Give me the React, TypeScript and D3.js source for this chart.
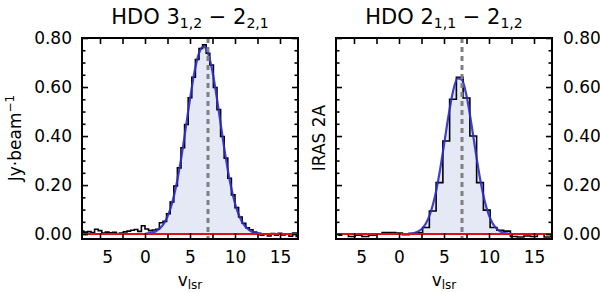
import { useEffect, useRef } from "react";
import * as d3 from "d3";

// HDO 3(1,2)-2(2,1): channel centres (km/s) and flux (Jy/beam)
const leftVelocity = [
  -7.0, -6.6, -6.2, -5.8, -5.4, -5.0, -4.6, -4.2, -3.8, -3.4, -3.0, -2.6, -2.2,
  -1.8, -1.4, -1.0, -0.6, -0.2, 0.2, 0.6, 1.0, 1.4, 1.8, 2.2, 2.6, 3.0, 3.4, 3.8,
  4.2, 4.6, 5.0, 5.4, 5.8, 6.2, 6.6, 7.0, 7.4, 7.8, 8.2, 8.6, 9.0, 9.4, 9.8, 10.2,
  10.6, 11.0, 11.4, 11.8, 12.2, 12.6, 13.0, 13.4, 13.8, 14.2, 14.6, 15.0, 15.4,
  15.8, 16.2, 16.6, 17.0,
];
const leftFlux = [
  0.012, 0.008, 0.01, 0.006, 0.02, 0.014, 0.004, 0.008, 0.005, 0.007, 0.002,
  0.004, 0.009, 0.012, 0.016, 0.019, 0.011, 0.034, 0.021, 0.014, 0.017, 0.02,
  0.046, 0.052, 0.083, 0.131, 0.196, 0.27, 0.352, 0.447, 0.556, 0.64, 0.712,
  0.757, 0.772, 0.738, 0.69, 0.598, 0.508, 0.398, 0.31, 0.228, 0.16, 0.108, 0.07,
  0.044, 0.026, 0.018, 0.008, 0.002, -0.004, 0.001, -0.008, 0.002, -0.005, 0.003,
  -0.003, 0.0, -0.009, 0.004, -0.01,
];
// gaussian fit
const leftFitVelocity = [
  0.0, 0.5, 1.0, 1.5, 2.0, 2.5, 3.0, 3.5, 4.0, 4.5, 5.0, 5.5, 6.0, 6.5, 7.0, 7.5,
  8.0, 8.5, 9.0, 9.5, 10.0, 10.5, 11.0, 11.5, 12.0, 12.5, 13.0,
];
const leftFit = [
  0.001, 0.004, 0.008, 0.019, 0.038, 0.072, 0.125, 0.203, 0.305, 0.426, 0.551,
  0.662, 0.738, 0.765, 0.738, 0.662, 0.551, 0.426, 0.305, 0.203, 0.125, 0.072,
  0.038, 0.019, 0.008, 0.004, 0.001,
];

// HDO 2(1,1)-2(1,2)
const rightVelocity = [
  -6.75, -6.0, -5.25, -4.5, -3.75, -3.0, -2.25, -1.5, -0.75, 0.0, 0.75, 1.5, 2.25,
  3.0, 3.75, 4.5, 5.25, 6.0, 6.75, 7.5, 8.25, 9.0, 9.75, 10.5, 11.25, 12.0, 12.75,
  13.5, 14.25, 15.0, 15.75, 16.5, 17.25,
];
const rightFlux = [
  -0.005, 0.0, -0.01, -0.005, -0.01, -0.005, 0.0, 0.006, 0.006, 0.004, -0.002,
  0.002, 0.005, 0.027, 0.094, 0.21, 0.38, 0.55, 0.64, 0.555, 0.4, 0.21, 0.098,
  0.027, 0.016, 0.012, -0.01, -0.012, -0.008, -0.01, 0.0, -0.012, -0.008,
];
const rightFitVelocity = [
  1.0, 1.5, 2.0, 2.5, 3.0, 3.5, 4.0, 4.5, 5.0, 5.5, 6.0, 6.5, 7.0, 7.5, 8.0, 8.5,
  9.0, 9.5, 10.0, 10.5, 11.0, 11.5, 12.0, 12.5,
];
const rightFit = [
  0.001, 0.003, 0.009, 0.02, 0.044, 0.087, 0.154, 0.249, 0.364, 0.483, 0.582,
  0.635, 0.629, 0.565, 0.46, 0.34, 0.228, 0.138, 0.076, 0.038, 0.017, 0.007,
  0.003, 0.001,
];

const xMajorTicks = [-5, 0, 5, 10, 15];
const xMinorTicks = [-2.5, 2.5, 7.5, 12.5];
const yMajorTicks = [0, 0.2, 0.4, 0.6, 0.8];
const yMinorTicks = [
  0.05, 0.1, 0.15, 0.25, 0.3, 0.35, 0.45, 0.5, 0.55, 0.65, 0.7, 0.75,
];
const systemicVelocity = 7.0;
const baselineLevel = 0;

const FONT = "DejaVu Sans";

type Panel = {
  key: string;
  left: number;
  velocity: number[];
  flux: number[];
  fitVelocity: number[];
  fit: number[];
  titleLevels: [string, string, string, string];
  labelSide: "left" | "right";
};

const panels: Panel[] = [
  {
    key: "a",
    left: 82,
    velocity: leftVelocity,
    flux: leftFlux,
    fitVelocity: leftFitVelocity,
    fit: leftFit,
    titleLevels: ["3", "1,2", "2", "2,1"],
    labelSide: "left",
  },
  {
    key: "b",
    left: 336,
    velocity: rightVelocity,
    flux: rightFlux,
    fitVelocity: rightFitVelocity,
    fit: rightFit,
    titleLevels: ["2", "1,1", "2", "1,2"],
    labelSide: "right",
  },
];

export default function App() {
  const svgRef = useRef<SVGSVGElement>(null);

  useEffect(() => {
    const svg = d3.select(svgRef.current);
    svg.selectAll("*").remove();

    const top = 38;
    const bottom = 239;
    const plotW = 216;

    const y = d3.scaleLinear().domain([-0.02, 0.8]).range([bottom, top]);

    panels.forEach((p) => {
      const x = d3
        .scaleLinear()
        .domain([-7, 17])
        .range([p.left, p.left + plotW]);
      const g = svg.append("g");

      g.append("clipPath")
        .attr("id", "clip-" + p.key)
        .append("rect")
        .attr("x", p.left)
        .attr("y", top)
        .attr("width", plotW)
        .attr("height", bottom - top);

      const inner = g.append("g").attr("clip-path", `url(#clip-${p.key})`);

      const fitPts = p.fitVelocity.map((v, i) => [v, p.fit[i]] as [number, number]);

      inner
        .append("path")
        .datum(fitPts)
        .attr("fill", "#e5e8f5")
        .attr(
          "d",
          d3
            .area<[number, number]>()
            .x((d) => x(d[0]))
            .y0(y(baselineLevel))
            .y1((d) => y(d[1]))
            .curve(d3.curveMonotoneX)
        );

      const specPts = p.velocity.map((v, i) => [v, p.flux[i]] as [number, number]);
      inner
        .append("path")
        .datum(specPts)
        .attr("fill", "none")
        .attr("stroke", "#000")
        .attr("stroke-width", 1.6)
        .attr(
          "d",
          d3
            .line<[number, number]>()
            .x((d) => x(d[0]))
            .y((d) => y(d[1]))
            .curve(d3.curveStep)
        );

      inner
        .append("path")
        .datum(fitPts)
        .attr("fill", "none")
        .attr("stroke", "#2c2cc8")
        .attr("stroke-width", 2.2)
        .attr("stroke-opacity", 0.9)
        .attr(
          "d",
          d3
            .line<[number, number]>()
            .x((d) => x(d[0]))
            .y((d) => y(d[1]))
            .curve(d3.curveMonotoneX)
        );

      inner
        .append("line")
        .attr("x1", x(-7))
        .attr("x2", x(17))
        .attr("y1", y(baselineLevel))
        .attr("y2", y(baselineLevel))
        .attr("stroke", "#e01010")
        .attr("stroke-width", 2);

      inner
        .append("line")
        .attr("x1", x(systemicVelocity))
        .attr("x2", x(systemicVelocity))
        .attr("y1", top)
        .attr("y2", bottom)
        .attr("stroke", "#808080")
        .attr("stroke-width", 3)
        .attr("stroke-dasharray", "5,4");

      // ticks pointing inward on all four sides
      const tickStyle = (sel: d3.Selection<SVGGElement, unknown, null, undefined>) => {
        sel.select(".domain").remove();
        sel.selectAll(".tick line").attr("stroke", "#000").attr("stroke-width", 1.6);
        sel.selectAll("text")
          .attr("font-family", FONT)
          .attr("font-size", 17)
          .attr("fill", "#000");
      };

      const bottomAxis = g
        .append("g")
        .attr("transform", `translate(0,${bottom})`)
        .call(
          d3
            .axisBottom(x)
            .tickValues(xMajorTicks)
            .tickSizeInner(-6)
            .tickSizeOuter(0)
            .tickPadding(12)
            .tickFormat((d) => String(d))
        );
      tickStyle(bottomAxis);
      bottomAxis.selectAll<SVGTextElement, number>("text").each(function (d) {
        if (d < 0) {
          const t = d3.select(this);
          t.text(null);
          t.append("tspan").attr("fill-opacity", 0).text("\u2212");
          t.append("tspan").text(String(Math.abs(d)));
        }
      });

      const bottomMinor = g
        .append("g")
        .attr("transform", `translate(0,${bottom})`)
        .call(d3.axisBottom(x).tickValues(xMinorTicks).tickSizeInner(-5).tickSizeOuter(0).tickFormat(() => ""));
      tickStyle(bottomMinor);

      const topAxis = g
        .append("g")
        .attr("transform", `translate(0,${top})`)
        .call(
          d3
            .axisTop(x)
            .tickValues([...xMajorTicks, ...xMinorTicks])
            .tickSizeInner(-6)
            .tickSizeOuter(0)
            .tickFormat(() => "")
        );
      tickStyle(topAxis);

      const leftAx = d3.axisLeft(y).tickSizeInner(-6).tickSizeOuter(0).tickPadding(10);
      const rightAx = d3.axisRight(y).tickSizeInner(-6).tickSizeOuter(0).tickPadding(11);

      const leftMajor = g
        .append("g")
        .attr("transform", `translate(${p.left},0)`)
        .call(
          leftAx
            .tickValues(yMajorTicks)
            .tickFormat((d) => (p.labelSide === "left" ? d3.format(".2f")(d as number) : ""))
        );
      tickStyle(leftMajor);
      const rightMajor = g
        .append("g")
        .attr("transform", `translate(${p.left + plotW},0)`)
        .call(
          rightAx
            .tickValues(yMajorTicks)
            .tickFormat((d) => (p.labelSide === "right" ? d3.format(".2f")(d as number) : ""))
        );
      tickStyle(rightMajor);

      const leftMinor = g
        .append("g")
        .attr("transform", `translate(${p.left},0)`)
        .call(d3.axisLeft(y).tickValues(yMinorTicks).tickSizeInner(-3.5).tickSizeOuter(0).tickFormat(() => ""));
      tickStyle(leftMinor);
      const rightMinor = g
        .append("g")
        .attr("transform", `translate(${p.left + plotW},0)`)
        .call(d3.axisRight(y).tickValues(yMinorTicks).tickSizeInner(-3.5).tickSizeOuter(0).tickFormat(() => ""));
      tickStyle(rightMinor);

      g.append("rect")
        .attr("x", p.left)
        .attr("y", top)
        .attr("width", plotW)
        .attr("height", bottom - top)
        .attr("fill", "none")
        .attr("stroke", "#000")
        .attr("stroke-width", 2);

      // title with subscripts
      const [a, aSub, b, bSub] = p.titleLevels;
      const title = g
        .append("text")
        .attr("x", p.left + plotW / 2)
        .attr("y", 24)
        .attr("text-anchor", "middle")
        .attr("font-family", FONT)
        .attr("font-size", 21);
      title.append("tspan").text("HDO " + a);
      title.append("tspan").attr("font-size", 14).attr("dy", 4).text(aSub);
      title.append("tspan").attr("dy", -4).text(" \u2212 " + b);
      title.append("tspan").attr("font-size", 14).attr("dy", 4).text(bSub);

      const xl = g
        .append("text")
        .attr("x", p.left + plotW / 2)
        .attr("y", 286)
        .attr("text-anchor", "middle")
        .attr("font-family", FONT)
        .attr("font-size", 17);
      xl.append("tspan").text("v");
      xl.append("tspan").attr("font-size", 12).attr("dy", 3).text("lsr");
    });

    const yl = svg
      .append("text")
      .attr("transform", "translate(21,138) rotate(-90)")
      .attr("text-anchor", "middle")
      .attr("font-family", FONT)
      .attr("font-size", 17);
    yl.append("tspan").text("Jy\u00b7beam");
    yl.append("tspan").attr("font-size", 12).attr("dy", -7).text("\u22121");

    svg
      .append("text")
      .attr("transform", "translate(325,138) rotate(-90)")
      .attr("text-anchor", "middle")
      .attr("font-family", FONT)
      .attr("font-size", 17)
      .text("IRAS 2A");
  }, []);

  return (
    <svg
      ref={svgRef}
      width={600}
      height={292}
      style={{ position: "absolute", left: 0, top: 0, background: "#fff" }}
    />
  );
}
